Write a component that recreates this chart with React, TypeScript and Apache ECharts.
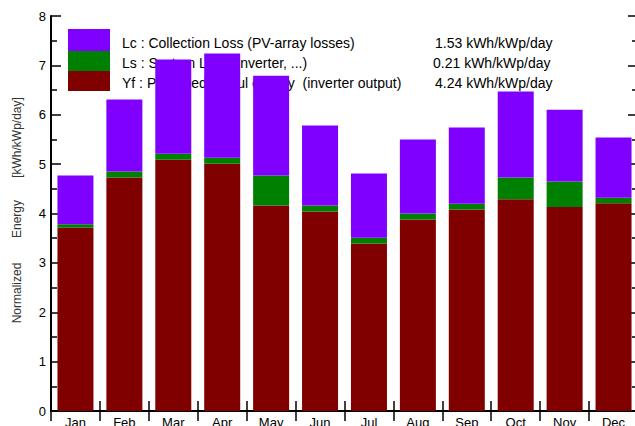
import React, { useEffect, useRef } from "react";
import * as echarts from "echarts";

const months = ["Jan", "Feb", "Mar", "Apr", "May", "Jun", "Jul", "Aug", "Sep", "Oct", "Nov", "Dec"];
const yf = [3.71, 4.73, 5.09, 5.01, 4.16, 4.04, 3.39, 3.88, 4.08, 4.29, 4.13, 4.21];
const ls = [0.07, 0.12, 0.12, 0.12, 0.61, 0.12, 0.12, 0.12, 0.12, 0.44, 0.52, 0.11];
const lc = [0.99, 1.46, 1.91, 2.11, 2.02, 1.62, 1.30, 1.50, 1.54, 1.74, 1.45, 1.22];
const legendLabels = [
  "Lc : Collection Loss (PV-array losses)",
  "Ls : System Loss (inverter, ...)",
  "Yf : Produced useful energy  (inverter output)",
];
const legendValues = ["1.53 kWh/kWp/day", "0.21 kWh/kWp/day", "4.24 kWh/kWp/day"];
const axisTitleParts = ["Normalized", "Energy", "[kWh/kWp/day]"];

const PURPLE = "#8000ff";
const GREEN = "#008000";
const RED = "#800000";
const FONT = "'Liberation Sans', Arial, sans-serif";

export default function App() {
  const ref = useRef<HTMLDivElement>(null);
  useEffect(() => {
    if (!ref.current) return;
    const chart = echarts.init(ref.current, null, { renderer: "svg" });
    const axisLine = { show: true, lineStyle: { color: "#000", width: 2 } };
    const yTick = { show: true, inside: true, length: 10, lineStyle: { color: "#000", width: 1.5 } };
    const yMinor = { show: true, splitNumber: 2, length: 6, lineStyle: { color: "#000", width: 1.5 } };
    const xTick = { show: true, inside: true, length: 10, lineStyle: { color: "#000", width: 1.5 } };

    const swatchColors = [PURPLE, GREEN, RED];
    const swatchY = [29, 51, 71];
    const swatchH = [22, 20, 20];
    const textY = [43, 63, 83];
    const valueX = [435, 433, 435];
    const graphic: any[] = [];
    for (let i = 0; i < 3; i++) {
      graphic.push({
        type: "rect",
        z: 10,
        shape: { x: 68, y: swatchY[i], width: 42, height: swatchH[i] },
        style: { fill: swatchColors[i] },
      });
      graphic.push({
        type: "text",
        z: 0,
        x: 122,
        y: textY[i],
        style: { text: legendLabels[i], fill: "#000", font: `14px ${FONT}`, textVerticalAlign: "middle" },
      });
      graphic.push({
        type: "text",
        z: 0,
        x: valueX[i],
        y: textY[i],
        style: { text: legendValues[i], fill: "#000", font: `14px ${FONT}`, textVerticalAlign: "middle" },
      });
    }
    const titleY = [293, 219, 137.5];
    for (let i = 0; i < 3; i++) {
      graphic.push({
        type: "text",
        x: 17,
        y: titleY[i],
        rotation: Math.PI / 2,
        style: {
          text: axisTitleParts[i],
          fill: "#333",
          font: `12px ${FONT}`,
          textAlign: "center",
          textVerticalAlign: "middle",
        },
      });
    }

    chart.setOption({
      animation: false,
      grid: { left: 51, top: 16, width: 587, height: 395, outerBoundsMode: "none", containLabel: false },
      graphic,
      xAxis: [
        {
          type: "category",
          data: months,
          position: "bottom",
          axisLine,
          axisTick: xTick,
          axisLabel: { color: "#000", fontSize: 13, fontFamily: FONT, margin: 5, interval: 0 },
        },
        {
          type: "category",
          data: months,
          position: "top",
          axisLine,
          axisTick: xTick,
          axisLabel: { show: false },
        },
      ],
      yAxis: [
        {
          type: "value",
          min: 0,
          max: 8,
          interval: 1,
          position: "left",
          axisLine,
          axisTick: yTick,
          minorTick: yMinor,
          splitLine: { show: false },
          axisLabel: { color: "#000", fontSize: 13, fontFamily: FONT, margin: 5 },
        },
        {
          type: "value",
          min: 0,
          max: 8,
          interval: 1,
          position: "right",
          axisLine,
          axisTick: yTick,
          minorTick: yMinor,
          splitLine: { show: false },
          axisLabel: { show: false },
        },
      ],
      series: [
        { name: "Yf", type: "bar", stack: "t", data: yf, barWidth: 36, itemStyle: { color: RED }, z: 5 },
        { name: "Ls", type: "bar", stack: "t", data: ls, barWidth: 36, itemStyle: { color: GREEN }, z: 5 },
        { name: "Lc", type: "bar", stack: "t", data: lc, barWidth: 36, itemStyle: { color: PURPLE }, z: 5 },
      ],
    });
    return () => chart.dispose();
  }, []);
  return (
    <div
      ref={ref}
      style={{ position: "fixed", left: 0, top: 0, width: 635, height: 426, background: "#fff" }}
    />
  );
}
